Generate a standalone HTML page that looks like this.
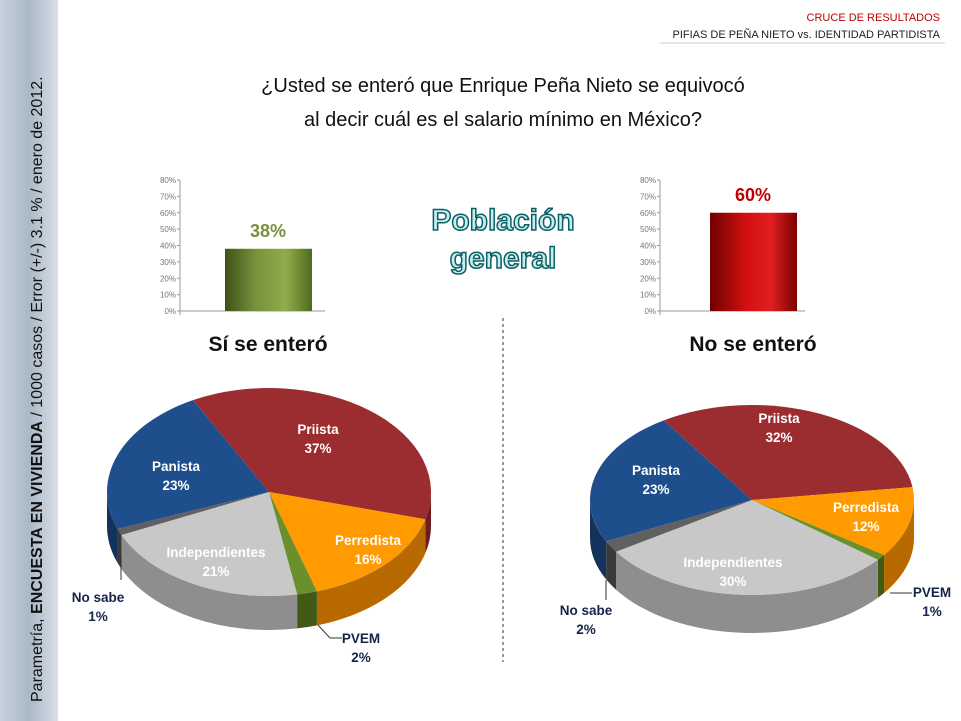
<!DOCTYPE html>
<html><head><meta charset="utf-8"><style>
html,body{margin:0;padding:0;background:#fff}
svg{display:block}
text{font-family:"Liberation Sans",sans-serif}
</style></head><body>
<svg id="s" width="961" height="721" viewBox="0 0 961 721" xmlns="http://www.w3.org/2000/svg">
<defs>
<linearGradient id="strip" x1="0" x2="1"><stop offset="0" stop-color="#c9d2dc"/><stop offset="0.5" stop-color="#aab8c8"/><stop offset="1" stop-color="#d8dfe6"/></linearGradient>
<linearGradient id="gbar" x1="0" x2="1"><stop offset="0" stop-color="#3e5218"/><stop offset="0.35" stop-color="#76923c"/><stop offset="0.7" stop-color="#8fae4a"/><stop offset="1" stop-color="#4f6a1f"/></linearGradient>
<linearGradient id="rbar" x1="0" x2="1"><stop offset="0" stop-color="#6e0000"/><stop offset="0.4" stop-color="#d01010"/><stop offset="0.7" stop-color="#e02020"/><stop offset="1" stop-color="#7a0000"/></linearGradient>
</defs>
<rect width="961" height="721" fill="#fff"/>
<rect x="0" y="0" width="58" height="721" fill="url(#strip)"/>
<text transform="translate(42,702) rotate(-90)" font-size="16" fill="#111">Parametría, <tspan font-weight="bold">ENCUESTA EN VIVIENDA</tspan> / 1000 casos / Error (+/-) 3.1 % / enero de 2012.</text>
<text x="940" y="21" font-size="11" fill="#c00000" text-anchor="end">CRUCE DE RESULTADOS</text>
<text x="940" y="38" font-size="11" fill="#222" text-anchor="end">PIFIAS DE PEÑA NIETO vs. IDENTIDAD PARTIDISTA</text>
<line x1="660" y1="43" x2="945" y2="43" stroke="#ccc" stroke-width="1"/>
<text x="503" y="92" font-size="20" fill="#111" text-anchor="middle">¿Usted se enteró que Enrique Peña Nieto se equivocó</text>
<text x="503" y="126" font-size="20" fill="#111" text-anchor="middle">al decir cuál es el salario mínimo en México?</text>
<g id="bars"></g>
<text x="503" y="230" font-size="30" font-weight="bold" fill="#bff0ee" stroke="#0e5e66" stroke-width="1.5" text-anchor="middle">Población</text>
<text x="503" y="268" font-size="30" font-weight="bold" fill="#bff0ee" stroke="#0e5e66" stroke-width="1.5" text-anchor="middle">general</text>
<text x="268" y="351" font-size="21" font-weight="bold" fill="#111" text-anchor="middle">Sí se enteró</text>
<text x="753" y="351" font-size="21" font-weight="bold" fill="#111" text-anchor="middle">No se enteró</text>
<line x1="503" y1="318" x2="503" y2="662" stroke="#333" stroke-dasharray="3,3"/>
<g id="pies"></g>
</svg>
<script>
var NS="http://www.w3.org/2000/svg";
function el(t,a,p,txt){var e=document.createElementNS(NS,t);for(var k in a)e.setAttribute(k,a[k]);if(txt!=null)e.textContent=txt;(p||document.getElementById('s')).appendChild(e);return e;}
var bars=document.getElementById('bars');
function bar(ax,bx,val,fill,col){
 var y0=311,h=131/80;
 for(var i=0;i<=8;i++){var y=y0-i*10*h;el('text',{x:ax-4,y:y+3,'font-size':8,fill:'#777','text-anchor':'end'},bars,(i*10)+'%');el('line',{x1:ax-3,y1:y,x2:ax,y2:y,stroke:'#999'},bars);}
 el('line',{x1:ax,y1:y0-131,x2:ax,y2:y0+4,stroke:'#999'},bars);
 el('line',{x1:ax,y1:y0,x2:ax+145,y2:y0,stroke:'#999'},bars);
 el('rect',{x:bx,y:y0-val*h,width:87,height:val*h,fill:fill},bars);
 el('text',{x:bx+43,y:y0-val*h-12,'font-size':18,'font-weight':'bold',fill:col,'text-anchor':'middle'},bars,val+'%');
}
bar(180,225,38,'url(#gbar)','#76923c');
bar(660,710,60,'url(#rbar)','#c00000');
var pies=document.getElementById('pies');
var C={Priista:['#9b2d30','#6e1c1f'],Perredista:['#ff9a00','#b86a00'],PVEM:['#6a8f2b','#3f5a14'],Independientes:['#c8c8c8','#8e8e8e'],'No sabe':['#606060','#3a3a3a'],Panista:['#1f4e8c','#13325c']};
function pie(cx,cy,rx,ry,d,start,data){
 function pt(t,dy){var r=t*Math.PI/180;return [cx+rx*Math.cos(r),cy+ry*Math.sin(r)+(dy||0)];}
 var a=start,segs=[];
 data.forEach(function(s){var b=a+s[1]*3.6;segs.push([s[0],a,b,s[1]]);a=b;});
 segs.forEach(function(s){
  for(var k=0;k<2;k++){var off=k*360;var lo=Math.max(s[1],off),hi=Math.min(s[2],off+180);if(hi<=lo)continue;
   var p1=pt(lo),p2=pt(hi),p3=pt(hi,d),p4=pt(lo,d);var lg=(hi-lo)>180?1:0;
   el('path',{d:'M'+p1+' A'+rx+','+ry+' 0 '+lg+' 1 '+p2+' L'+p3+' A'+rx+','+ry+' 0 '+lg+' 0 '+p4+' Z',fill:C[s[0]][1]},pies);}
 });
 segs.forEach(function(s){var p1=pt(s[1]),p2=pt(s[2]);var lg=(s[2]-s[1])>180?1:0;
  el('path',{d:'M'+cx+','+cy+' L'+p1+' A'+rx+','+ry+' 0 '+lg+' 1 '+p2+' Z',fill:C[s[0]][0]},pies);});
}
pie(269,492,162,104,34,242,[['Priista',37],['Perredista',16],['PVEM',2],['Independientes',21],['No sabe',1],['Panista',23]]);
pie(752,500,162,95,38,237,[['Priista',32],['Perredista',12],['PVEM',1],['Independientes',30],['No sabe',2],['Panista',23]]);
function lab(x,y,a,b,col){el('text',{x:x,y:y,'font-size':13.5,'font-weight':'bold',fill:col,'text-anchor':'middle'},pies,a);el('text',{x:x,y:y+19,'font-size':13.5,'font-weight':'bold',fill:col,'text-anchor':'middle'},pies,b);}
var W='#fff',N='#17244a';
lab(318,434,'Priista','37%',W);lab(176,471,'Panista','23%',W);lab(368,545,'Perredista','16%',W);lab(216,557,'Independientes','21%',W);
lab(98,602,'No sabe','1%',N);lab(361,643,'PVEM','2%',N);
lab(779,423,'Priista','32%',W);lab(656,475,'Panista','23%',W);lab(866,512,'Perredista','12%',W);lab(733,567,'Independientes','30%',W);
lab(586,615,'No sabe','2%',N);lab(932,597,'PVEM','1%',N);
el('polyline',{points:'121,555 121,580',fill:'none',stroke:'#333'},pies);
el('polyline',{points:'318,625 330,638 342,638',fill:'none',stroke:'#333'},pies);
el('polyline',{points:'606,580 606,600',fill:'none',stroke:'#333'},pies);
el('polyline',{points:'890,593 912,593',fill:'none',stroke:'#333'},pies);
</script>
</body></html>
